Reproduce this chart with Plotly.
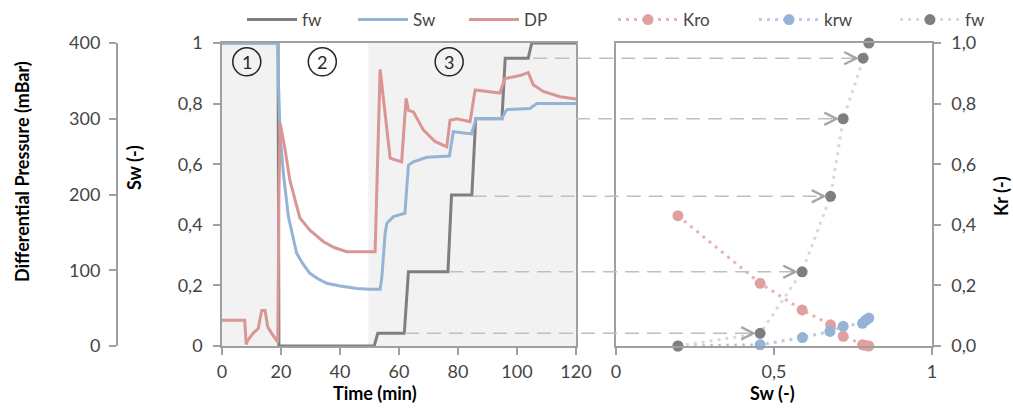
import plotly.graph_objects as go

W, H = 1013, 409
FONT = "Lato"
TXT = "#454545"

# ---------------- Left panel data (time series) ----------------
fw_time = [0, 19.0, 19.3, 51.6, 52.8, 61.8, 63.2, 76.6, 77.8, 84.7, 86.0, 94.9, 96.0, 103.8, 105.0, 120]
fw_val = [1, 1, 0, 0, 0.042, 0.042, 0.245, 0.245, 0.498, 0.498, 0.75, 0.75, 0.95, 0.95, 1.0, 1.0]

sw_time = [0, 18.9, 19.2, 19.7, 20.8, 22.5, 25.3, 27.5, 29.8, 32.5, 35.5, 40, 45.7, 50, 53.6, 54.2,
           55.3, 55.9, 58.1, 62.0, 63.2, 64.9, 69.4, 77.1, 78.4, 84.6, 86.1, 94.8, 96.5, 104.4, 106.7, 120]
sw_val = [1, 1, 0.85, 0.70, 0.57, 0.427, 0.306, 0.27, 0.24, 0.222, 0.207, 0.198, 0.19, 0.187, 0.187, 0.229,
          0.372, 0.405, 0.427, 0.438, 0.597, 0.608, 0.623, 0.627, 0.707, 0.70, 0.751, 0.751, 0.78, 0.784, 0.80, 0.80]

dp_time = [0, 7.7, 8.2, 8.8, 10.6, 12.3, 13.1, 13.5, 14.6, 15.0, 15.5, 16.8, 18.5, 18.9, 19.3, 19.7,
           21.4, 23.0, 26.4, 29.8, 34.3, 38.0, 42.3, 47, 51.9, 53.6, 55.3, 57.0, 60.9, 62.4, 63.2, 64.9,
           68.3, 72.2, 76.2, 77.3, 79.6, 84.1, 85.8, 90.9, 94.2, 95.9, 98.7, 101, 103.8, 105.5, 108.9, 114.6, 120]
dp_val = [34, 34, 2, 8, 17, 23, 40, 47, 47, 35, 25, 17, 8, 5, 200, 294,
          259, 219, 169, 153, 138, 130, 124.5, 124.5, 124.5, 365, 308, 248, 243, 327, 311, 309,
          285, 270, 263, 298, 300, 296, 338, 336, 334, 353, 355, 357, 361, 345, 336, 329, 326]

# stages: shaded spans and labels
stage_spans = [(0, 19.0), (49.6, 120)]
stage_labels = ["1", "2", "3"]
stage_label_time = [8.4, 34.0, 77.0]
stage_label_y = 0.938

# ---------------- Right panel data (relative permeability) ----------------
kro_sw = [0.196, 0.456, 0.589, 0.679, 0.719, 0.78, 0.79, 0.80]
kro_val = [0.43, 0.207, 0.119, 0.070, 0.032, 0.004, 0.002, 0.0]
krw_sw = [0.196, 0.456, 0.59, 0.677, 0.719, 0.78, 0.79, 0.80]
krw_val = [0.0, 0.004, 0.028, 0.048, 0.065, 0.075, 0.085, 0.092]
fwp_sw = [0.196, 0.456, 0.589, 0.679, 0.719, 0.782, 0.80]
fwp_val = [0, 0.042, 0.245, 0.494, 0.75, 0.95, 1.0]

# arrows linking fw steps (left) to fw points (right)
arrow_fw = [0.042, 0.245, 0.494, 0.75, 0.95]
arrow_start_time = [62.0, 77.0, 85.0, 120.0, 105.5]
arrow_end_sw = [0.456, 0.589, 0.679, 0.719, 0.782]

# ---------------- Layout geometry ----------------
XD1 = [222 / W, 576 / W]
XD2 = [616 / W, 932 / W]
YD = [1 - 346 / H, 1 - 43 / H]
XR1 = [0, 120]
XR2 = [0, 1]


def paper_x1(t):
    return XD1[0] + (t - XR1[0]) / (XR1[1] - XR1[0]) * (XD1[1] - XD1[0])


def paper_x2(s):
    return XD2[0] + (s - XR2[0]) / (XR2[1] - XR2[0]) * (XD2[1] - XD2[0])


fig = go.Figure()

# left panel traces
fig.add_trace(go.Scatter(x=fw_time, y=fw_val, mode="lines", name="fw",
                         line=dict(color="#7f7f7f", width=3), xaxis="x", yaxis="y", legend="legend"))
fig.add_trace(go.Scatter(x=sw_time, y=sw_val, mode="lines", name="Sw",
                         line=dict(color="#95b3d7", width=3), xaxis="x", yaxis="y", legend="legend"))
fig.add_trace(go.Scatter(x=dp_time, y=dp_val, mode="lines", name="DP",
                         line=dict(color="#d99694", width=3), xaxis="x", yaxis="y3", legend="legend"))

# right panel traces
fig.add_trace(go.Scatter(x=kro_sw, y=kro_val, mode="lines+markers", name="Kro",
                         line=dict(color="#e8b4b3", width=3, dash="3px,5px"),
                         marker=dict(color="#e0a09f", size=11),
                         xaxis="x2", yaxis="y2", legend="legend2", cliponaxis=False))
fig.add_trace(go.Scatter(x=krw_sw, y=krw_val, mode="lines+markers", name="krw",
                         line=dict(color="#b8cce4", width=3, dash="3px,5px"),
                         marker=dict(color="#95b3d7", size=11),
                         xaxis="x2", yaxis="y2", legend="legend2", cliponaxis=False))
fig.add_trace(go.Scatter(x=fwp_sw, y=fwp_val, mode="lines+markers", name="fw",
                         line=dict(color="#d9d9d9", width=3, dash="3px,5px"),
                         marker=dict(color="#7f7f7f", size=11),
                         xaxis="x2", yaxis="y2", legend="legend2", cliponaxis=False))

shapes = []
for a, b in stage_spans:
    shapes.append(dict(type="rect", xref="x", yref="y", x0=a, x1=b, y0=0, y1=1,
                       fillcolor="#f2f2f2", line=dict(width=0), layer="below"))
for t in stage_label_time:
    shapes.append(dict(type="circle", xref="x", yref="y", xsizemode="pixel", ysizemode="pixel",
                       xanchor=t, yanchor=stage_label_y, x0=-14, x1=14, y0=-14, y1=14,
                       line=dict(color="#262626", width=1.5), fillcolor="rgba(0,0,0,0)"))

annotations = []
for t, lab in zip(stage_label_time, stage_labels):
    annotations.append(dict(x=t, y=stage_label_y, xref="x", yref="y", text=lab, showarrow=False,
                            xanchor="center", yanchor="middle",
                            font=dict(family=FONT, size=18, color="#262626")))

for fwv, t0, s1 in zip(arrow_fw, arrow_start_time, arrow_end_sw):
    shapes.append(dict(type="line", xref="paper", yref="y2", x0=paper_x1(t0), x1=paper_x2(s1) - 8 / W,
                       y0=fwv, y1=fwv, line=dict(color="#bfbfbf", width=1.5, dash="14px,8px")))
    annotations.append(dict(x=s1, y=fwv, xref="x2", yref="y2", ax=-12, ay=0, axref="pixel", ayref="pixel",
                            showarrow=True, arrowhead=5, arrowsize=2.4, arrowwidth=1, standoff=4,
                            arrowcolor="#a6a6a6", text=""))

# axis titles
title_font = dict(family=FONT, size=18, color="#000000")


def title(x, y, text, angle=0):
    return dict(x=x / W, y=1 - y / H, xref="paper", yref="paper", text="<b>%s</b>" % text,
                textangle=angle, showarrow=False, xanchor="center", yanchor="middle", font=title_font)


annotations += [
    title(22, 172, "Differential Pressure (mBar)", -90),
    title(134, 168, "Sw (-)", -90),
    title(375, 393, "Time (min)"),
    title(772, 393, "Sw (-)"),
    title(1001, 196, "Kr (-)", -90),
]

LINE = "#a0a0a0"
tickfont = dict(family=FONT, size=18, color=TXT)
common = dict(showgrid=False, zeroline=False, showline=True, linecolor=LINE, linewidth=1.5,
              ticks="outside", tickcolor=LINE, ticklen=7, tickwidth=1.5, tickfont=tickfont,
              automargin=False, fixedrange=True)

fig.update_layout(
    width=W, height=H,
    margin=dict(l=0, r=0, t=0, b=0, autoexpand=False),
    paper_bgcolor="white", plot_bgcolor="white",
    font=dict(family=FONT, color=TXT),
    xaxis=dict(domain=XD1, range=XR1, anchor="y", tickvals=[0, 20, 40, 60, 80, 100, 120],
               mirror=True, ticklabelstandoff=2, **common),
    yaxis=dict(domain=YD, range=[0, 1], anchor="x", tickvals=[0, 0.2, 0.4, 0.6, 0.8, 1],
               ticktext=["0", "0,2", "0,4", "0,6", "0,8", "1"], mirror=True, ticklabelstandoff=7, **common),
    yaxis3=dict(range=[0, 400], overlaying="y", anchor="free", position=116.7 / W, side="left",
                tickvals=[0, 100, 200, 300, 400], ticklabelstandoff=5, **common),
    xaxis2=dict(domain=XD2, range=XR2, anchor="y2", tickvals=[0, 0.5, 1], ticktext=["0", "0,5", "1"],
                mirror=True, ticklabelstandoff=2, **common),
    yaxis2=dict(domain=YD, range=[0, 1], anchor="x2", side="right",
                tickvals=[0, 0.2, 0.4, 0.6, 0.8, 1.0],
                ticktext=["0,0", "0,2", "0,4", "0,6", "0,8", "1,0"], mirror=True, ticklabelstandoff=7,
                **common),
    legend=dict(orientation="h", x=242 / W, y=1 - 2 / H, xanchor="left", yanchor="top",
                font=dict(family=FONT, size=17, color=TXT), bgcolor="rgba(0,0,0,0)",
                itemwidth=50, entrywidth=46, entrywidthmode="pixels"),
    legend2=dict(orientation="h", x=613 / W, y=1 - 2 / H, xanchor="left", yanchor="top",
                 font=dict(family=FONT, size=17, color=TXT), bgcolor="rgba(0,0,0,0)",
                 itemwidth=60, entrywidth=66, entrywidthmode="pixels"),
    shapes=shapes,
    annotations=annotations,
    showlegend=True,
)

fig.write_html("out.html")
